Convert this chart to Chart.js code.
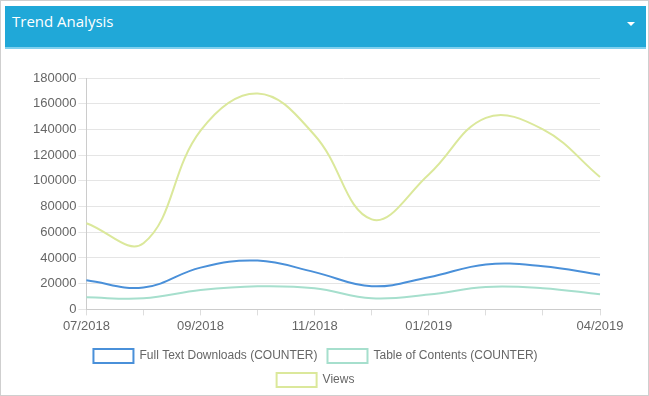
<!DOCTYPE html>
<html>
<head>
<meta charset="utf-8">
<script src="https://cdn.jsdelivr.net/npm/chart.js@4/dist/chart.umd.min.js"></script>
<style>
  html, body { margin: 0; padding: 0; background: #fff; }
  #panel {
    position: absolute; left: 0; top: 0; width: 647px; height: 394px;
    border: 1px solid #cfcfcf; background: #fff;
  }
  #head {
    position: absolute; left: 4px; top: 5px; width: 641px; height: 43px;
    background: #20a8d8; border-bottom: 2px solid #7fd0ee;
    color: #fff; font-family: "Open Sans", "DejaVu Sans", sans-serif; font-size: 15px;
    line-height: 31px; box-sizing: border-box; padding-left: 7px;
  }
  #caret {
    position: absolute; right: 11px; top: 16px; width: 0; height: 0;
    border-left: 4px solid transparent; border-right: 4px solid transparent;
    border-top: 4px solid #fff;
  }
  #wrap { position: absolute; left: 4px; top: 60px; width: 641px; height: 336px; }
</style>
</head>
<body>
<div id="panel">
  <div id="head">Trend Analysis<div id="caret"></div></div>
  <div id="wrap"><canvas id="trend"></canvas></div>
</div>
<script>
// months shown on the x axis
const months = ["07/2018", "08/2018", "09/2018", "10/2018", "11/2018", "12/2018", "01/2019", "02/2019", "03/2019", "04/2019"];

const fullText = [22600, 17000, 32500, 38000, 29000, 18000, 25000, 35000, 33500, 27000];
const tableOfContents = [9400, 8600, 15000, 18000, 16500, 8600, 11500, 17500, 16500, 11700];
const views = [67000, 51500, 139000, 168000, 135500, 70000, 105000, 149000, 140000, 103000];

const yTicks = { min: 0, max: 180000, step: 20000 };

// legend in the original wraps onto two rows, so fit it into a narrower width
const legendWrap = {
    id: "legendWrap",
    beforeLayout: function (chart) {
        const lg = chart.legend;
        if (!lg || lg._narrow) return;
        const fit = lg.fit;
        lg.fit = function () {
            const full = this.maxWidth;
            this.maxWidth = Math.min(full, 530);
            fit.call(this);
            this.maxWidth = full;
            this.width = full;
        };
        lg._narrow = true;
    }
};

document.addEventListener("DOMContentLoaded", function () {
    const ctx = document.getElementById("trend").getContext("2d");
    const last = months.length - 1;

    new Chart(ctx, {
        type: "line",
        data: {
            labels: months,
            datasets: [{
                label: "Full Text Downloads (COUNTER)",
                data: fullText,
                borderColor: "#4a90d9",
                backgroundColor: "#ffffff"
            }, {
                label: "Table of Contents (COUNTER)",
                data: tableOfContents,
                borderColor: "#a6dfcd",
                backgroundColor: "#ffffff"
            }, {
                label: "Views",
                data: views,
                borderColor: "#dbe89b",
                backgroundColor: "#ffffff"
            }]
        },
        plugins: [legendWrap],
        options: {
            responsive: true,
            maintainAspectRatio: false,
            animation: false,
            layout: { padding: { left: 26, right: 46, top: 17, bottom: 0 } },
            elements: {
                line: { tension: 0.4, borderWidth: 2, fill: false },
                point: { radius: 0 }
            },
            plugins: {
                tooltip: { enabled: false },
                legend: {
                    position: "bottom",
                    labels: {
                        boxWidth: 40, boxHeight: 14, padding: 10,
                        color: "#666", font: { family: "Liberation Sans, Arial", size: 12 }
                    }
                }
            },
            scales: {
                x: {
                    grid: { drawOnChartArea: false, drawTicks: true, tickLength: 6, color: "#ddd" },
                    border: { color: "#ccc" },
                    afterFit: function (scale) { scale.height += 2; },
                    ticks: {
                        autoSkip: false, maxRotation: 0, color: "#666", padding: 3,
                        font: { family: "Liberation Sans, Arial", size: 13 },
                        callback: function (v, i) {
                            return (i === last || (i % 2 === 0 && i < last - 1)) ? months[i] : "";
                        }
                    }
                },
                y: {
                    min: yTicks.min, max: yTicks.max,
                    grid: { color: "#e5e5e5", tickLength: 8 },
                    border: { color: "#ccc" },
                    ticks: {
                        stepSize: yTicks.step, color: "#666", padding: 2,
                        font: { family: "Liberation Sans, Arial", size: 13 },
                        callback: function (v) { return String(v); }
                    }
                }
            }
        }
    });
});
</script>
</body>
</html>
